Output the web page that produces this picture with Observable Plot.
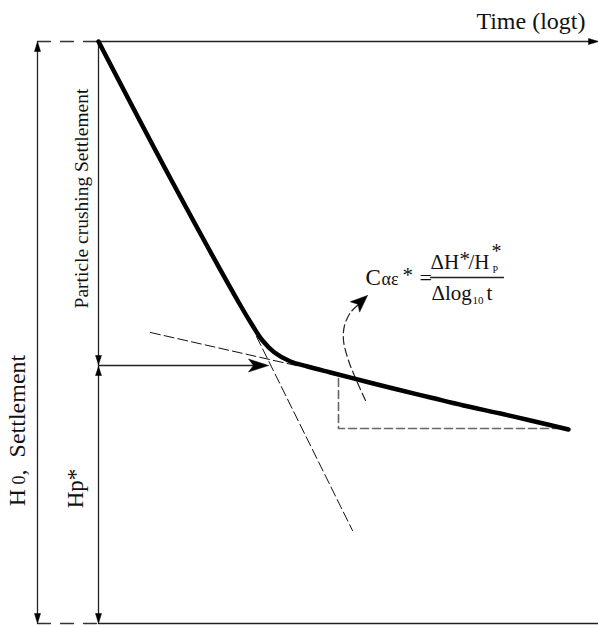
<!DOCTYPE html>
<html><head><meta charset="utf-8">
<script src="https://cdn.jsdelivr.net/npm/d3@7"></script>
<script src="https://cdn.jsdelivr.net/npm/@observablehq/plot@0.6"></script>
<style>html,body{margin:0;padding:0;background:#fff;} svg{display:block}</style>
</head><body><div id="chart"></div>
<script>
// Schematic coordinates: x = log time (0..598), y = settlement (0..626, downward)
const settlementCurve = [[98,41],[170,178],[240,305],[252,325],[262,340],[274,352],[290,361],[307,366],[330,372],[365,381],[397,389],[430,397],[463,405],[500,413],[530,420],[568,429]];
const tangentPrimary = [[256,336],[352,530]];
const tangentSecondary = [[150,332],[300,366]];
const slopeTriangle = [[338,378],[338,428],[563,428]];
const curvedArrowPath = [[365,400],[356,380],[348,360],[343,340],[344,325],[350,312],[358,304]];
const solidLines = [
  {id:"timeAxis", pts:[[98,41],[594,41]]},
  {id:"baseAxis", pts:[[98,623],[598,623]]},
  {id:"h0", pts:[[37,45],[37,618]]},
  {id:"hp", pts:[[98,41],[98,618]]},
  {id:"yieldArrow", pts:[[98,365],[255,365]]},
  {id:"fractionBar", pts:[[430,277],[503,277]]}
];
const dashedGuides = [
  {id:"topGuide", pts:[[37,41],[98,41]]},
  {id:"bottomGuide", pts:[[37,623],[98,623]]}
];
const arrowHeads = [
  {id:"h0top", tip:[37,41], dir:[0,-1], len:10, w:3, notch:0},
  {id:"h0bot", tip:[37,623], dir:[0,1], len:10, w:3, notch:0},
  {id:"pcBot", tip:[98,364], dir:[0,1], len:9, w:3, notch:0},
  {id:"hpTop", tip:[98,366], dir:[0,-1], len:9, w:3, notch:0},
  {id:"hpBot", tip:[98,623], dir:[0,1], len:10, w:3, notch:0},
  {id:"time", tip:[598,41], dir:[1,0], len:10, w:3, notch:0},
  {id:"yield", tip:[268,365], dir:[1,0], len:20, w:6.5, notch:5},
  {id:"curved", tip:[367,295], dir:[1.1,-1], len:17, w:7, notch:4}
];
const axisLabels = [
  {t:"Time (logt)", x:585, y:28, size:24, rotate:0, anchor:"end"},
  {t:"H0, Settlement", x:17, y:430, size:24, rotate:-90, anchor:"middle"},
  {t:"Particle crushing Settlement", x:81, y:198, size:19.5, rotate:-90, anchor:"middle"},
  {t:"Hp*", x:75, y:488, size:23, rotate:-90, anchor:"middle"}
];
const formulaParts = [
  {t:"C", x:365, y:284, size:23},
  {t:"αε", x:381, y:284, size:18},
  {t:"*", x:402, y:281, size:21},
  {t:"=", x:419, y:284, size:22},
  {t:"ΔH", x:430, y:268, size:21},
  {t:"*", x:459, y:265, size:21},
  {t:"/H", x:468, y:268, size:21},
  {t:"P", x:492, y:272, size:10},
  {t:"*", x:491, y:257, size:20},
  {t:"Δlog", x:431, y:299, size:21},
  {t:"10", x:472, y:303, size:11},
  {t:"t", x:486, y:299, size:21}
];

function toRows(pts, id){ return pts.map(([x,y]) => ({x, y, id})); }
function headPolygon(a){
  const n = Math.hypot(a.dir[0], a.dir[1]);
  const ux = a.dir[0]/n, uy = a.dir[1]/n, vx = -uy, vy = ux;
  const [tx, ty] = a.tip;
  const bx = tx - a.len*ux, by = ty - a.len*uy;
  return [[tx,ty],[bx + a.w*vx, by + a.w*vy],[tx - (a.len - a.notch)*ux, ty - (a.len - a.notch)*uy],[bx - a.w*vx, by - a.w*vy],[tx,ty]];
}
const solidRows = solidLines.flatMap(l => toRows(l.pts, l.id));
const guideRows = dashedGuides.flatMap(l => toRows(l.pts, l.id));
const headRows = arrowHeads.flatMap(a => toRows(headPolygon(a), a.id));
const font = "Liberation Serif, Times New Roman, serif";

const chart = Plot.plot({
  width: 598, height: 626,
  margin: 0,
  x: {domain: [0, 598], axis: null},
  y: {domain: [0, 626], reverse: true, axis: null},
  style: {fontFamily: font, background: "#fff"},
  marks: [
    Plot.line(solidRows, {x:"x", y:"y", z:"id", stroke:"#222", strokeWidth:1.3}),
    Plot.line(guideRows, {x:"x", y:"y", z:"id", stroke:"#333", strokeWidth:1.3, strokeDasharray:"13,10"}),
    Plot.line(toRows(tangentPrimary,"t1"), {x:"x", y:"y", stroke:"#111", strokeWidth:1, strokeDasharray:"10,4"}),
    Plot.line(toRows(tangentSecondary,"t2"), {x:"x", y:"y", stroke:"#111", strokeWidth:1, strokeDasharray:"10,4"}),
    Plot.line(toRows(slopeTriangle,"tri"), {x:"x", y:"y", stroke:"#666", strokeWidth:1.6, strokeDasharray:"8,4"}),
    Plot.line(toRows(curvedArrowPath,"ca"), {x:"x", y:"y", stroke:"#222", strokeWidth:1.2, strokeDasharray:"8,4", curve:"catmull-rom"}),
    Plot.line(toRows(settlementCurve,"curve"), {x:"x", y:"y", stroke:"#000", strokeWidth:4.5, curve:"catmull-rom", strokeLinecap:"round"}),
    Plot.line(headRows, {x:"x", y:"y", z:"id", fill:"#000", stroke:"#000", strokeWidth:0.5}),
    ...axisLabels.map(l => Plot.text([l], {x:"x", y:"y", text:"t", fontSize:l.size, rotate:l.rotate, textAnchor:l.anchor, lineAnchor: l.rotate ? "middle" : "bottom", fill:"#111", fontFamily:font})),
    ...formulaParts.map(p => Plot.text([p], {x:"x", y:"y", text:"t", fontSize:p.size, textAnchor:"start", lineAnchor:"bottom", fill:"#111", fontFamily:font}))
  ]
});
chart.querySelectorAll("text").forEach(t => {
  if (t.textContent === "H0, Settlement") {
    t.innerHTML = "H<tspan font-size=\"18\"> 0</tspan>,  Settlement";
  }
});
document.getElementById("chart").appendChild(chart);
</script>
</body></html>
